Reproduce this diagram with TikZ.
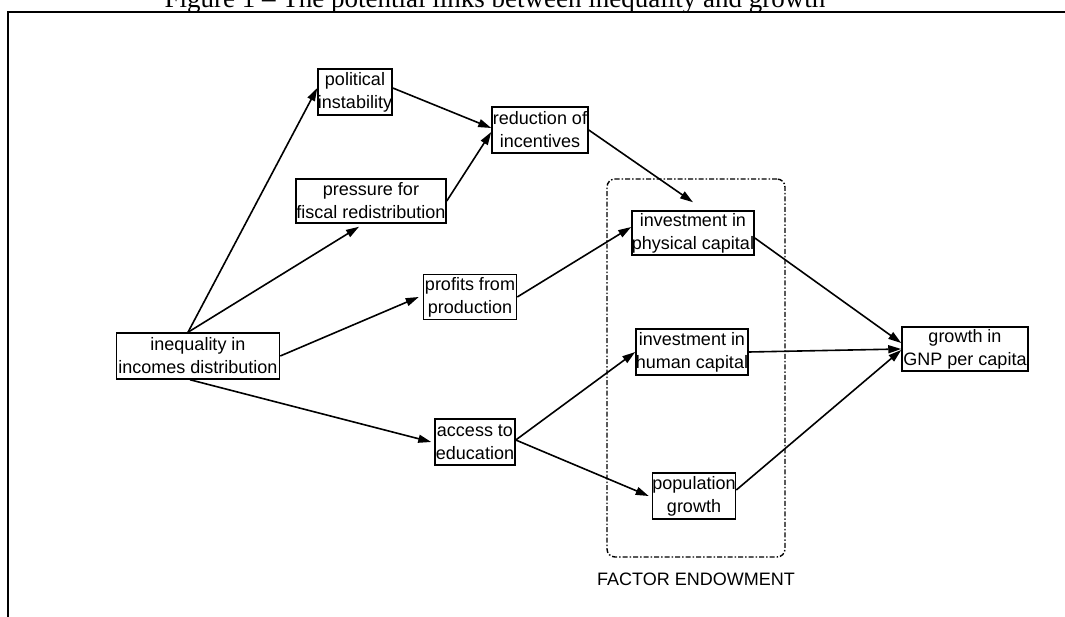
\documentclass[tikz,border=0pt]{standalone}
\usepackage{fontspec}
\setmainfont{Liberation Sans}
\newfontfamily\titlefont{Liberation Serif}
\usetikzlibrary{arrows.meta, positioning}

\begin{document}
\begin{tikzpicture}[x=1pt, y=-1pt,
        box/.style={draw, rectangle, line width=1.5pt, inner sep=0pt, align=center,
            font=\fontsize{18}{23}\selectfont},
        link/.style={-{Triangle[length=13pt,width=8pt]}, line width=1.6pt},
        group/.style={draw, rounded corners=8pt, line width=1.4pt,
            dash pattern=on 5pt off 2pt on 1.5pt off 2pt}]
        \useasboundingbox (0,0) rectangle (1065,617);
        \clip (0,0) rectangle (1065,617);

        % Title (cut at the top) and frame
        \node[font=\titlefont\fontsize{27}{30}\selectfont, anchor=base, inner sep=0pt]
            (title) at (495,8) {Figure 1 – The potential links between inequality and growth};
        \draw[line width=2.2pt] (1065,12) -- (8,12) -- (8,617);

        % Factor endowment group
        \node[group, minimum width=178pt, minimum height=378pt] (endow) at (696,368) {};
        \node[font=\fontsize{18}{23}\selectfont, below=12pt of endow.south] (endowlbl) {FACTOR ENDOWMENT};

        % Boxes
        \node[box, minimum width=74pt, minimum height=46pt] (polit) at (355,92) {political\\instability};
        \node[box, minimum width=96pt, minimum height=46pt] (reduc) at (540,130) {reduction of\\incentives};
        \node[box, minimum width=150pt, minimum height=44pt] (press) at (371,201) {pressure for\\fiscal redistribution};
        \node[box, minimum width=93pt, minimum height=45pt] (profit) at (470,297) {profits from\\production};
        \node[box, minimum width=163pt, minimum height=46pt] (ineq) at (198,356) {inequality in\\incomes distribution};
        \node[box, minimum width=80pt, minimum height=46pt] (access) at (475,442) {access to\\education};
        \node[box, minimum width=122pt, minimum height=44pt] (phys) at (693,233) {investment in\\physical capital};
        \node[box, minimum width=112pt, minimum height=46pt] (human) at (692,352) {investment in\\human capital};
        \node[box, minimum width=83pt, minimum height=46pt] (popul) at (694,496) {population\\growth};
        \node[box, minimum width=126pt, minimum height=44pt] (growth) at (965,349) {growth in\\GNP per capita};

        % Links
        \draw[link] ([xshift=-10pt]ineq.north) -- ([yshift=4pt]polit.west);
        \draw[link] ([xshift=-10pt]ineq.north) -- ([xshift=-12pt,yshift=-3pt]press.south);
        \draw[link] (ineq.east) -- ([xshift=-4pt]profit.west);
        \draw[link] ([xshift=-8pt]ineq.south) -- ([xshift=-3pt]access.west);
        \draw[link] ([yshift=4pt]polit.east) -- ([yshift=2pt]reduc.west);
        \draw[link] (press.east) -- ([yshift=-2pt]reduc.west);
        \draw[link] (reduc.east) -- ([yshift=8pt]phys.north);
        \draw[link] (profit.east) -- ([yshift=6pt]phys.west);
        \draw[link] ([yshift=2pt]access.east) -- (human.west);
        \draw[link] ([yshift=2pt]access.east) -- ([xshift=-3pt]popul.west);
        \draw[link] ([yshift=-5pt]phys.east) -- ([yshift=6pt]growth.west);
        \draw[link] (human.east) -- (growth.west);
        \draw[link] ([yshift=6pt]popul.east) -- ([yshift=-1pt]growth.west);
\end{tikzpicture}
\end{document}
